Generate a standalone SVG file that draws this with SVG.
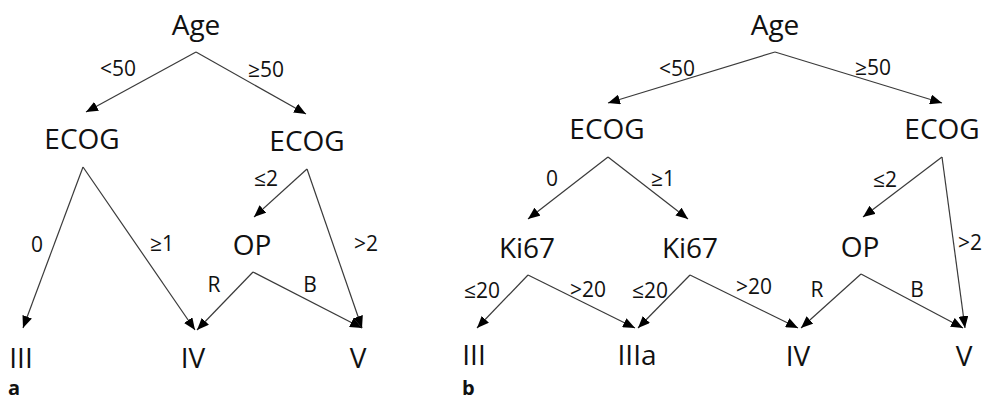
<svg xmlns="http://www.w3.org/2000/svg" width="985" height="402" viewBox="0 0 985 402">
<style>
.n{font-family:"Open Sans","Liberation Sans",sans-serif;font-size:28px;fill:#111;text-anchor:middle}
.l{font-family:"Open Sans","Liberation Sans",sans-serif;font-size:21px;fill:#111;text-anchor:middle}
.p{font-family:"Open Sans","Liberation Sans",sans-serif;font-size:20px;font-weight:bold;fill:#111}
.c line{stroke:#3a3a3a;stroke-width:1.2;marker-end:url(#ah)}
</style>
<defs>
<marker id="ah" markerUnits="userSpaceOnUse" markerWidth="12" markerHeight="10" viewBox="0 0 12 10" refX="12" refY="5" orient="auto">
<path d="M0,0 L12,5 L0,10 Z" fill="#000"/>
</marker>
</defs>
<rect width="985" height="402" fill="#fff"/>
<g id="connectors" class="c">
<line x1="196" y1="52" x2="86" y2="112"/>
<line x1="196" y1="52" x2="306" y2="114"/>
<line x1="83" y1="167" x2="23" y2="328"/>
<line x1="83" y1="167" x2="195" y2="330"/>
<line x1="307" y1="169" x2="254" y2="217"/>
<line x1="307" y1="169" x2="362" y2="328"/>
<line x1="253" y1="272" x2="197" y2="330"/>
<line x1="253" y1="272" x2="362" y2="328"/>
<line x1="775" y1="52" x2="608" y2="103"/>
<line x1="775" y1="52" x2="942" y2="103"/>
<line x1="608" y1="157" x2="528" y2="219"/>
<line x1="608" y1="157" x2="688" y2="219"/>
<line x1="942" y1="157" x2="863" y2="217"/>
<line x1="942" y1="157" x2="965" y2="328"/>
<line x1="528" y1="275" x2="477" y2="328"/>
<line x1="528" y1="275" x2="635" y2="328"/>
<line x1="690" y1="275" x2="638" y2="328"/>
<line x1="690" y1="275" x2="798" y2="328"/>
<line x1="861" y1="274" x2="801" y2="328"/>
<line x1="861" y1="274" x2="963" y2="328"/>
</g>
<g id="edge-labels">
<text class="l" x="118" y="76">&lt;50</text>
<text class="l" x="266" y="77">≥50</text>
<text class="l" x="37" y="252">0</text>
<text class="l" x="162" y="251">≥1</text>
<text class="l" x="266" y="186">≤2</text>
<text class="l" x="366" y="251">&gt;2</text>
<text class="l" x="214" y="292">R</text>
<text class="l" x="310" y="292">B</text>
<text class="l" x="677" y="76">&lt;50</text>
<text class="l" x="873" y="75">≥50</text>
<text class="l" x="552" y="186">0</text>
<text class="l" x="663" y="186">≥1</text>
<text class="l" x="885" y="187">≤2</text>
<text class="l" x="482" y="298">≤20</text>
<text class="l" x="588" y="297">&gt;20</text>
<text class="l" x="650" y="298">≤20</text>
<text class="l" x="754" y="294">&gt;20</text>
<text class="l" x="817" y="297">R</text>
<text class="l" x="917" y="297">B</text>
<text class="l" x="958" y="250" style="text-anchor:start">&gt;2</text>
</g>
<g id="a-age"><text class="n" x="196" y="35">Age</text></g>
<g id="a-ecog1"><text class="n" x="82" y="149">ECOG</text></g>
<g id="a-ecog2"><text class="n" x="307" y="151">ECOG</text></g>
<g id="a-op"><text class="n" x="252" y="255">OP</text></g>
<g id="a-iii"><text class="n" x="21" y="368">III</text></g>
<g id="a-iv"><text class="n" x="193" y="368">IV</text></g>
<g id="a-v"><text class="n" x="358" y="368">V</text></g>
<g id="b-age"><text class="n" x="775" y="35">Age</text></g>
<g id="b-ecog1"><text class="n" x="607" y="139">ECOG</text></g>
<g id="b-ecog2"><text class="n" x="942" y="139">ECOG</text></g>
<g id="b-ki67a"><text class="n" x="527" y="258">Ki67</text></g>
<g id="b-ki67b"><text class="n" x="690" y="258">Ki67</text></g>
<g id="b-op"><text class="n" x="860" y="257">OP</text></g>
<g id="b-iii"><text class="n" x="474" y="365">III</text></g>
<g id="b-iiia"><text class="n" x="637" y="365">IIIa</text></g>
<g id="b-iv"><text class="n" x="798" y="366">IV</text></g>
<g id="b-v"><text class="n" x="964" y="366">V</text></g>
<g id="panel-labels">
<text class="p" x="8" y="395">a</text>
<text class="p" x="462" y="395">b</text>
</g>
</svg>
